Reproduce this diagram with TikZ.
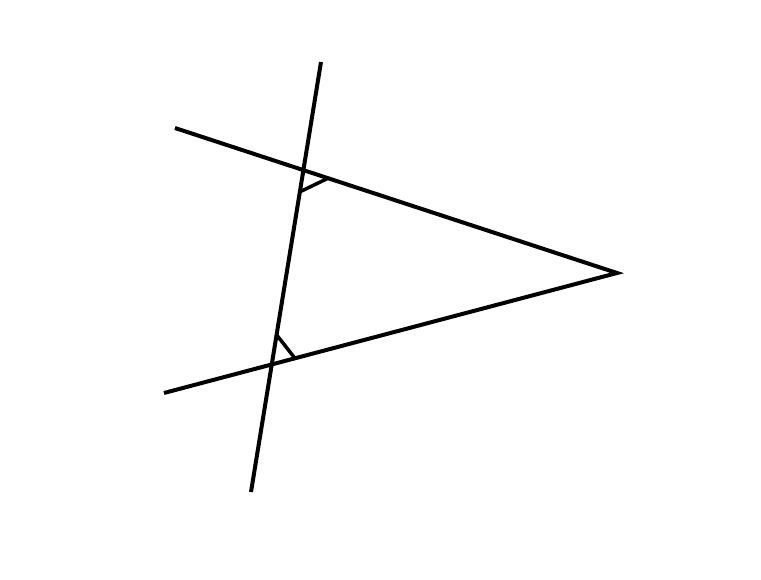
\documentclass[tikz,border=0pt]{standalone}
\usetikzlibrary{calc}
\begin{document}
\begin{tikzpicture}[x=1pt,y=-1pt,line/.style={line width=4pt,line cap=butt},anglemark/.style={line width=3.5pt}]
\useasboundingbox (0,0) rectangle (761,580);
\coordinate (A) at (175,128);
\coordinate (B) at (164,393);
\coordinate (P) at (617,273);
\coordinate (T1) at (321,62);
\coordinate (T2) at (251,492);
\coordinate (X1) at (303.4,170.1);
\coordinate (X2) at (271.8,364.5);
\draw[line] (A) -- (P) -- (B);
\draw[line] (T1) -- (T2);
\draw[anglemark] ($(X1)!22pt!(X2)$) -- ($(X1)!26pt!(P)$);
\draw[anglemark] ($(X2)!30pt!(X1)$) -- ($(X2)!24pt!(P)$);
\end{tikzpicture}
\end{document}
